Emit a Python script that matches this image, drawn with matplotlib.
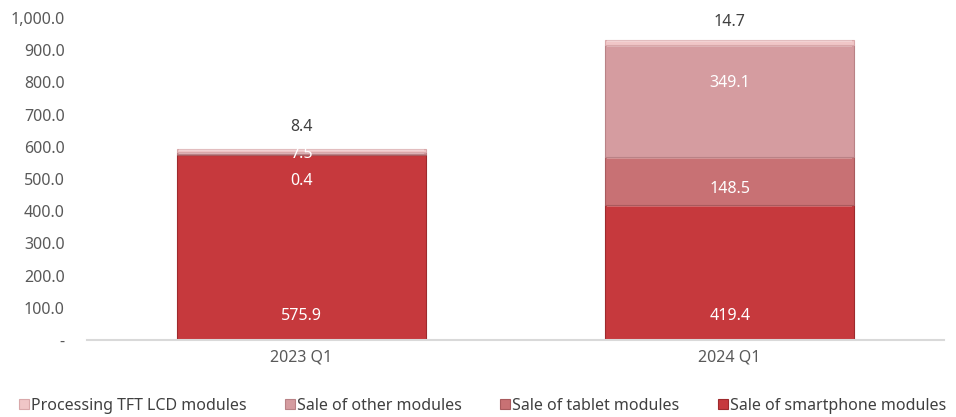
import matplotlib
matplotlib.use('Agg')
import matplotlib.pyplot as plt
import numpy as np

categories = ['2023 Q1', '2024 Q1']
series_names = ['Sale of smartphone modules', 'Sale of tablet modules',
                'Sale of other modules', 'Processing TFT LCD modules']
smartphone = [575.9, 419.4]
tablet = [0.4, 148.5]
other = [7.5, 349.1]
processing = [8.4, 14.7]
yticks = [0, 100, 200, 300, 400, 500, 600, 700, 800, 900, 1000]

# styling / layout
colors = ['#C6393D', '#C87174', '#D59CA0', '#F0C6C7']
edges = ['#9E2A2D', '#A85A5D', '#B98286', '#D9A8AA']
label_colors = ['white', 'white', 'white', '#404040']
# where each value label sits (data units), per series
label_y = [[75, 75], [494, 469], [578, 798], [661, 988]]
fs = 11.5

plt.rcParams['font.family'] = ['Noto Sans', 'DejaVu Sans']

fig = plt.figure(figsize=(9.56, 4.17), dpi=100)
ax = fig.add_axes([87 / 956, 1 - 340 / 417, (944 - 87) / 956, (340 - 18) / 417])

x = np.arange(len(categories))
width = 0.58
bottom = np.zeros(len(categories))
handles = []
for i, vals in enumerate([smartphone, tablet, other, processing]):
    vals = np.array(vals)
    b = ax.bar(x, vals, width, bottom=bottom, color=colors[i],
               edgecolor=edges[i], linewidth=0.8, label=series_names[i])
    # light strip on top of each segment for the bevel look
    strip = np.minimum(vals, 6)
    ax.bar(x, strip, width * 0.985, bottom=bottom + vals - strip,
           color='white', alpha=0.25, linewidth=0)
    handles.append(b)
    for j in range(len(categories)):
        ax.text(x[j], label_y[i][j], '{:.1f}'.format(vals[j]), ha='center',
                va='center', color=label_colors[i], fontsize=fs)
    bottom += vals

ax.set_xlim(-0.5, len(categories) - 0.5)
ax.set_ylim(0, 1000)
ax.set_yticks(yticks)
ax.set_yticklabels(['-' if v == 0 else '{:,.1f}'.format(v) for v in yticks])
ax.set_xticks(x)
ax.set_xticklabels(categories)
ax.tick_params(axis='both', length=0, colors='#595959', labelsize=fs)
ax.tick_params(axis='y', pad=16)
ax.tick_params(axis='x', pad=7)
for s in ['top', 'right', 'left']:
    ax.spines[s].set_visible(False)
ax.spines['bottom'].set_color('#D9D9D9')
ax.spines['bottom'].set_linewidth(1.5)

leg = fig.legend(handles[::-1], series_names[::-1], loc='lower center',
                 bbox_to_anchor=(0.505, -0.027), ncol=4, frameon=False,
                 fontsize=fs, handlelength=0.6, handleheight=0.6,
                 handletextpad=0.15, columnspacing=2.4)
for t in leg.get_texts():
    t.set_color('#404040')

fig.savefig('out.png', dpi=100)
